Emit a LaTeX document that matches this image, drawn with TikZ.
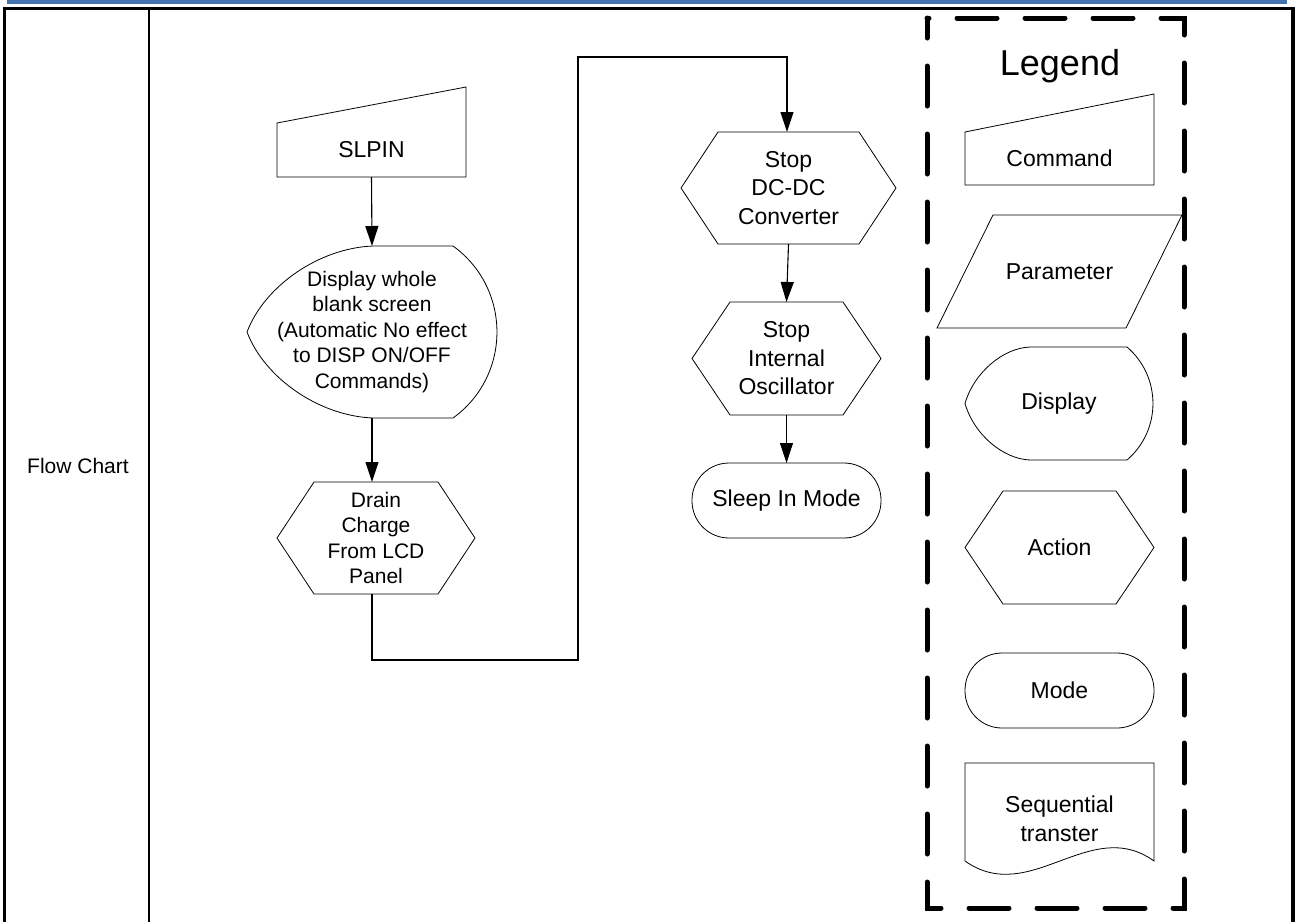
\documentclass[tikz,border=0pt]{standalone}
\usepackage{fontspec}
\setmainfont{Liberation Sans}
\usetikzlibrary{arrows.meta}

\definecolor{headerblue}{RGB}{68,114,176}

% outlines drawn round the named text nodes
\newcommand{\hexoutline}[2]{%
  \draw[shapeline] (#1.west) -- ([xshift=#2]#1.north west) -- ([xshift=-#2]#1.north east)
    -- (#1.east) -- ([xshift=-#2]#1.south east) -- ([xshift=#2]#1.south west) -- cycle;}
\newcommand{\cmdoutline}[2]{%
  \draw[shapeline] (#1.south west) -- (#1.north west) -- ([yshift=#2]#1.north east)
    -- (#1.south east) -- cycle;}

\begin{document}
\begin{tikzpicture}[x=1pt,y=-1pt]
\tikzset{
  flowbox/.style={inner sep=0pt,outer sep=0pt,align=center,font=\fontsize{21}{25.5}\selectfont},
  rightbox/.style={flowbox,font=\fontsize{23}{28.5}\selectfont},
  shapeline/.style={draw=black,line width=0.8pt,line join=miter},
  modebox/.style={rightbox,draw=black,line width=0.8pt,rounded corners=37pt},
  graphedge/.style={draw=black,line width=1.1pt},
  directed/.style={graphedge,-{Triangle[length=20pt,width=13pt]}},
  tableline/.style={draw=black,line width=3.5pt},
  legendframe/.style={draw=black,line width=5pt,line cap=round,dash pattern=on 40pt off 28pt,dash phase=20pt}
}
\useasboundingbox (0,0) rectangle (1298,922);
% header rule and table
\fill[headerblue] (7,0) rectangle (1287,3.5);
\draw[tableline] (4.5,922) -- (4.5,8.5) -- (1293,8.5) -- (1293,922);
\draw[graphedge,line width=2.6pt] (149,8.5) -- (149,922);
\node[flowbox] (n_title) at (78,466) {Flow Chart};

% flow chart
\node[rightbox,minimum width=189pt,minimum height=54pt] (n_slpin) at (371.5,150) {SLPIN};
\cmdoutline{n_slpin}{36pt}
\node[flowbox,minimum width=250pt,minimum height=172pt] (n_blank) at (372,332)
  {Display whole\\blank screen\\(Automatic No effect\\to DISP ON/OFF\\Commands)};
\draw[shapeline] (n_blank.west) .. controls +(18,-47) and +(-53,2) .. ([xshift=126pt]n_blank.north west)
  -- ([xshift=-44pt]n_blank.north east) .. controls +(58.6,42.3) and +(58.6,-42.3) .. ([xshift=-44pt]n_blank.south east)
  -- ([xshift=126pt]n_blank.south west) .. controls +(-53,-2) and +(18,47) .. (n_blank.west);
\node[flowbox,minimum width=198pt,minimum height=112pt] (n_drain) at (376,538)
  {Drain\\Charge\\From LCD\\Panel};
\hexoutline{n_drain}{37pt}
\node[rightbox,minimum width=215pt,minimum height=112pt] (n_dcdc) at (788.5,188)
  {Stop\\DC-DC\\Converter};
\hexoutline{n_dcdc}{37pt}
\node[rightbox,minimum width=189pt,minimum height=113pt] (n_osc) at (786.5,358.5)
  {Stop\\Internal\\Oscillator};
\hexoutline{n_osc}{38pt}
\node[modebox,minimum width=189pt,minimum height=75pt] (n_sleep) at (786.5,500.5) {Sleep In Mode};

\coordinate (c_low) at (578,660);
\coordinate (c_high) at (578,57);
\draw[directed] (n_slpin.south) -- (n_blank.north);
\draw[directed] (n_blank.south) -- (n_blank.south |- n_drain.north);
\draw[directed] (n_blank.south |- n_drain.south) |- (c_low) -- (c_high) -| ([xshift=-1.5pt]n_dcdc.north);
\draw[directed] (n_dcdc.south) -- (n_osc.north);
\draw[directed] (n_osc.south) -- (n_sleep.north);

% legend
\draw[legendframe] (927,18) rectangle (1184,908);
\node[flowbox,font=\fontsize{36}{40}\selectfont] (n_legend) at (1060,66) {Legend};
\node[rightbox,minimum width=189pt,minimum height=53pt] (n_command) at (1059.5,158.5) {Command};
\cmdoutline{n_command}{38pt}
\node[rightbox,minimum width=245pt,minimum height=113pt] (n_param) at (1059.5,271.5) {Parameter};
\draw[shapeline] ([xshift=56pt]n_param.north west) -- (n_param.north east)
  -- ([xshift=-56pt]n_param.south east) -- (n_param.south west) -- cycle;
\node[rightbox,minimum width=188pt,minimum height=113pt] (n_display) at (1059,403.5) {Display};
\draw[shapeline] (n_display.west) .. controls +(9,-31) and +(-27,1) .. ([xshift=65pt]n_display.north west)
  -- ([xshift=-26pt]n_display.north east) .. controls +(34.6,29.7) and +(34.6,-29.7) .. ([xshift=-26pt]n_display.south east)
  -- ([xshift=65pt]n_display.south west) .. controls +(-27,-1) and +(9,31) .. (n_display.west);
\node[rightbox,minimum width=189pt,minimum height=113pt] (n_action) at (1059.5,547.5) {Action};
\hexoutline{n_action}{38pt}
\node[modebox,minimum width=189pt,minimum height=75pt] (n_mode) at (1059.5,690.5) {Mode};
\node[rightbox,minimum width=189pt,minimum height=112pt] (n_seq) at (1059.5,819) {Sequential\\transter};
\draw[shapeline] ([yshift=14pt]n_seq.south west) -- (n_seq.north west) -- (n_seq.north east)
  -- ([yshift=14pt]n_seq.south east) .. controls +(-64,-46) and +(65,46) .. ([yshift=14pt]n_seq.south west);
\end{tikzpicture}
\end{document}
